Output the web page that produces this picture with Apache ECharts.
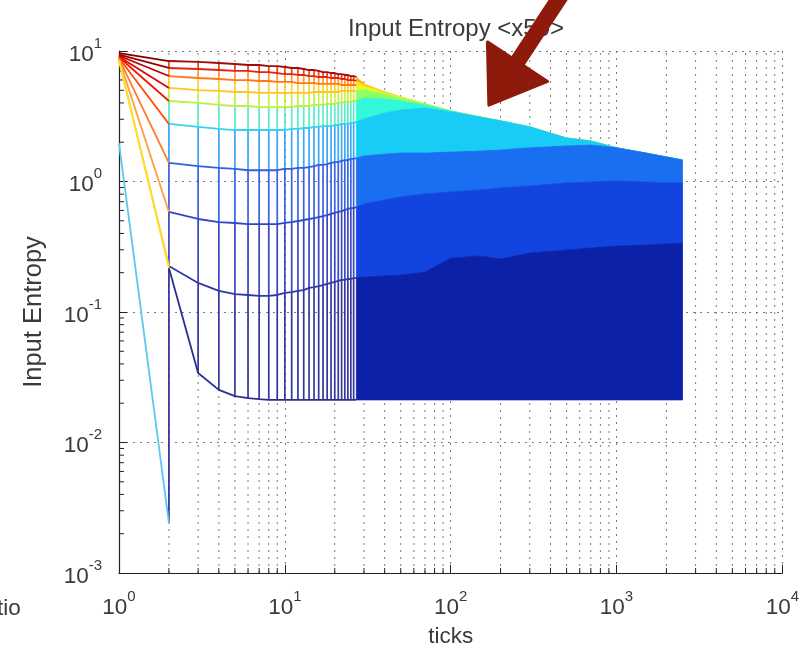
<!DOCTYPE html>
<html>
<head>
<meta charset="utf-8">
<script src="https://cdn.jsdelivr.net/npm/echarts@6/dist/echarts.min.js"></script>
<style>
html, body { margin: 0; padding: 0; background: #ffffff; }
#chart { width: 802px; height: 659px; }
</style>
</head>
<body>
<div id="chart"></div>
<script>
// Mesh nodes along the "ticks" axis: every integer up to 27, then a sparser tail.
const tickNodes = [1, 2, 3, 4, 5, 6, 7, 8, 9, 10, 11, 12, 13, 14, 15, 16, 17, 18, 19, 20,
  21, 22, 23, 24, 25, 26, 27, 30, 40, 50, 70, 100, 150, 200, 300, 500, 700, 1000, 1500, 2000, 2500];

// Input entropy rows of the mesh, top to bottom (one value per node above).
const entropyR0 = [9.65, 8.38, 8.24, 8.09, 7.95, 7.81, 7.81, 7.67, 7.67, 7.54, 7.41, 7.41, 7.28, 7.15, 7.15, 7.03, 6.90, 6.90, 6.78, 6.78,
  6.66, 6.66, 6.55, 6.55, 6.43, 6.43, 6.32, 5.59, 4.85, 4.44, 3.93, 3.47, 3.12, 2.91, 2.62, 2.15, 2.04, 1.81, 1.65, 1.54, 1.46];
const entropyR1 = [9.40, 7.41, 7.28, 7.15, 7.03, 7.03, 6.90, 6.90, 6.78, 6.66, 6.66, 6.55, 6.55, 6.43, 6.43, 6.32, 6.32, 6.32, 6.21, 6.21,
  6.21, 6.10, 6.10, 5.99, 5.99, 5.99, 5.89, 5.49, 4.85, 4.44, 3.93, 3.47, 3.12, 2.91, 2.62, 2.15, 2.04, 1.81, 1.65, 1.54, 1.46];
const entropyR2 = [9.20, 6.43, 6.21, 6.10, 5.99, 5.99, 5.89, 5.89, 5.79, 5.79, 5.79, 5.68, 5.68, 5.68, 5.68, 5.59, 5.59, 5.59, 5.59, 5.59,
  5.59, 5.49, 5.49, 5.49, 5.49, 5.49, 5.49, 5.30, 4.77, 4.44, 3.93, 3.47, 3.12, 2.91, 2.62, 2.15, 2.04, 1.81, 1.65, 1.54, 1.46];
const entropyR3 = [9.05, 5.21, 5.02, 4.94, 4.85, 4.85, 4.77, 4.77, 4.77, 4.77, 4.77, 4.77, 4.77, 4.77, 4.85, 4.85, 4.85, 4.85, 4.85, 4.85,
  4.85, 4.94, 4.94, 4.94, 4.94, 4.94, 4.94, 5.02, 4.68, 4.36, 3.93, 3.47, 3.12, 2.91, 2.62, 2.15, 2.04, 1.81, 1.65, 1.54, 1.46];
const entropyR4 = [8.95, 4.14, 4.00, 3.86, 3.79, 3.79, 3.72, 3.72, 3.72, 3.72, 3.72, 3.79, 3.79, 3.79, 3.86, 3.86, 3.86, 3.93, 3.93, 3.93,
  4.00, 4.00, 4.07, 4.07, 4.07, 4.14, 4.14, 4.36, 4.29, 4.14, 3.86, 3.47, 3.12, 2.91, 2.62, 2.15, 2.04, 1.81, 1.65, 1.54, 1.46];
const entropyR5 = [8.85, 2.76, 2.62, 2.53, 2.48, 2.48, 2.48, 2.48, 2.48, 2.48, 2.53, 2.53, 2.57, 2.57, 2.62, 2.62, 2.66, 2.66, 2.66, 2.71,
  2.71, 2.76, 2.76, 2.76, 2.81, 2.81, 2.86, 3.01, 3.35, 3.53, 3.66, 3.41, 3.12, 2.91, 2.62, 2.15, 2.04, 1.81, 1.65, 1.54, 1.46];
const entropyR6 = [8.75, 1.39, 1.31, 1.27, 1.25, 1.22, 1.22, 1.22, 1.22, 1.25, 1.25, 1.27, 1.27, 1.29, 1.31, 1.34, 1.34, 1.36, 1.39, 1.41,
  1.41, 1.44, 1.46, 1.46, 1.49, 1.49, 1.51, 1.57, 1.62, 1.65, 1.65, 1.68, 1.71, 1.74, 1.81, 1.87, 1.90, 1.81, 1.65, 1.54, 1.46];
const entropyR7 = [8.65, 0.584, 0.516, 0.489, 0.481, 0.472, 0.472, 0.472, 0.472, 0.481, 0.489, 0.498, 0.507, 0.516, 0.525, 0.534, 0.544, 0.553, 0.564, 0.574,
  0.584, 0.594, 0.605, 0.616, 0.626, 0.626, 0.638, 0.673, 0.721, 0.761, 0.802, 0.831, 0.861, 0.892, 0.924, 0.974, 0.991, 1.01, 0.991, 0.974, 0.974];
const entropyR8 = [8.55, 0.225, 0.167, 0.145, 0.137, 0.135, 0.133, 0.133, 0.135, 0.140, 0.142, 0.145, 0.147, 0.153, 0.155, 0.158, 0.161, 0.164, 0.167, 0.170,
  0.173, 0.176, 0.176, 0.179, 0.179, 0.182, 0.182, 0.185, 0.189, 0.192, 0.202, 0.259, 0.269, 0.255, 0.283, 0.299, 0.309, 0.320, 0.326, 0.332, 0.338];
const entropyR9 = [8.45, 0.217, 0.0341, 0.0253, 0.0227, 0.0219, 0.0215, 0.0212, 0.0212, 0.0212, 0.0212, 0.0212, 0.0212, 0.0212, 0.0212, 0.0212, 0.0212, 0.0212, 0.0212, 0.0212,
  0.0212, 0.0212, 0.0212, 0.0212, 0.0212, 0.0212, 0.0212, 0.0212, 0.0212, 0.0212, 0.0212, 0.0212, 0.0212, 0.0212, 0.0212, 0.0212, 0.0212, 0.0212, 0.0212, 0.0212, 0.0212];
// Lowest row only exists on the first two nodes.
const entropyLow = [1.97, 0.00242];

// Axis decades and labels
const xDecades = [1, 10, 100, 1000, 10000];
const yDecades = [0.001, 0.01, 0.1, 1, 10];
const minorSteps = [2, 3, 4, 5, 6, 7, 8, 9];
const titleText = 'Input Entropy <x50>';
const xName = 'ticks';
const yName = 'Input Entropy';
const clippedText = 'tio';
const arrowTip = [170, 3.85];

// Colours (jet-like)
const fanColors  = ['#7f0000', '#9c0000', '#ba0000', '#d80800', '#f21800', '#ff4a00', '#ff7a30', '#ff9e40', '#ffc030', '#ffe028'];
const rowColors  = ['#9e0c0c', '#e02414', '#ff7818', '#ffc420', '#b8f048', '#34d4f0', '#2f60e0', '#3048c8', '#3038a8', '#2c2f92'];
const colColors  = ['#e44a1c', '#ff9828', '#ffd030', '#c8f048', '#5cecc8', '#3aa8f4', '#3a62e4', '#3a46c4', '#34389c'];
const fillColors = ['#ffa800', '#ffe000', '#d8ff28', '#90ff68', '#30f8d8', '#18ccf6', '#1a6ef0', '#1244e0', '#0b22a8'];
const lowFanColor = '#5cc8ee';
const lowColColor = '#30309a';
const arrowColor = '#8e1a0c';

const FONT = '"Liberation Sans", Arial, Helvetica, sans-serif';
const TXT = '#3a3a3a';
const AXIS = '#222222';

const rows = [entropyR0, entropyR1, entropyR2, entropyR3, entropyR4, entropyR5, entropyR6, entropyR7, entropyR8, entropyR9];
const FILL_FROM = tickNodes.indexOf(27);
const COL_TO = tickNodes.indexOf(26);
const xMin = xDecades[0], xMax = xDecades[xDecades.length - 1];
const yMin = yDecades[0], yMax = yDecades[yDecades.length - 1];
const minorX = xDecades.slice(0, -1).flatMap(d => minorSteps.map(m => m * d));
const minorY = yDecades.slice(0, -1).flatMap(d => minorSteps.map(m => m * d));

function powLabel(v) {
  const e = Math.round(Math.log10(v));
  return '{b|10}{s|' + e + '}';
}
const labelRich = {
  b: { fontFamily: FONT, fontSize: 22.5, color: TXT, lineHeight: 30, verticalAlign: 'bottom' },
  s: { fontFamily: FONT, fontSize: 15, color: TXT, lineHeight: 14, verticalAlign: 'top' }
};
const dotted = { color: '#7a7a7a', width: 1, type: [2, 5] };

const series = [];

// Minor vertical grid lines and bottom minor ticks
series.push({
  type: 'custom', z: 1, silent: true, clip: false, animation: false,
  data: minorX.map(v => [v, yMin]),
  renderItem(params, api) {
    const x = api.value(0);
    const b = api.coord([x, yMin]);
    const t = api.coord([x, yMax]);
    return { type: 'group', children: [
      { type: 'line', shape: { x1: b[0], y1: b[1], x2: t[0], y2: t[1] }, style: { stroke: '#7a7a7a', lineWidth: 1, lineDash: [2, 5] } },
      { type: 'line', shape: { x1: b[0], y1: b[1], x2: b[0], y2: b[1] - 5 }, style: { stroke: AXIS, lineWidth: 1 } }
    ] };
  }
});
// Left minor ticks
series.push({
  type: 'custom', z: 1, silent: true, clip: false, animation: false,
  data: minorY.map(v => [xMin, v]),
  renderItem(params, api) {
    const p = api.coord([xMin, api.value(1)]);
    return { type: 'line', shape: { x1: p[0], y1: p[1], x2: p[0] + 5, y2: p[1] }, style: { stroke: AXIS, lineWidth: 1 } };
  }
});

// Dense part of the mesh: bands between consecutive rows
series.push({
  type: 'custom', z: 2, silent: true, animation: false,
  data: fillColors.map((c, k) => [tickNodes[FILL_FROM], rows[k][FILL_FROM]]),
  renderItem(params, api) {
    const k = params.dataIndex, up = rows[k], lo = rows[k + 1], pts = [];
    for (let j = FILL_FROM; j < tickNodes.length; j++) pts.push(api.coord([tickNodes[j], up[j]]));
    for (let j = tickNodes.length - 1; j >= FILL_FROM; j--) pts.push(api.coord([tickNodes[j], lo[j]]));
    return { type: 'polygon', shape: { points: pts }, style: { fill: fillColors[k], stroke: fillColors[k], lineWidth: 0.8 } };
  }
});

// Mesh columns at each integer tick
series.push({
  type: 'custom', z: 3, silent: true, animation: false,
  data: tickNodes.slice(1, COL_TO + 1).map((x, i) => [x, rows[0][i + 1]]),
  renderItem(params, api) {
    const j = params.dataIndex + 1, x = tickNodes[j], kids = [];
    const seg = (v1, v2, c) => {
      const a = api.coord([x, v1]), b = api.coord([x, v2]);
      kids.push({ type: 'line', shape: { x1: a[0], y1: a[1], x2: b[0], y2: b[1] }, style: { stroke: c, lineWidth: 1.7 } });
    };
    for (let k = 0; k < rows.length - 1; k++) seg(rows[k][j], rows[k + 1][j], colColors[k]);
    if (j < entropyLow.length) seg(rows[rows.length - 1][j], entropyLow[j], lowColColor);
    return { type: 'group', children: kids };
  }
});

// Mesh rows
rows.forEach((r, k) => {
  series.push({
    type: 'line', z: 4, silent: true, symbol: 'none', animation: false,
    data: tickNodes.slice(1, FILL_FROM + 1).map((x, i) => [x, r[i + 1]]),
    lineStyle: { color: rowColors[k], width: 1.8 }, itemStyle: { color: rowColors[k] }
  });
  series.push({
    type: 'line', z: 5, silent: true, symbol: 'none', animation: false,
    data: [[tickNodes[0], r[0]], [tickNodes[1], r[1]]],
    lineStyle: { color: fanColors[k], width: 1.8 }, itemStyle: { color: fanColors[k] }
  });
});
series.push({
  type: 'line', z: 5, silent: true, symbol: 'none', animation: false,
  data: [[tickNodes[0], entropyLow[0]], [tickNodes[1], entropyLow[1]]],
  lineStyle: { color: lowFanColor, width: 1.8 }, itemStyle: { color: lowFanColor }
});

const chart = echarts.init(document.getElementById('chart'), null, { renderer: 'canvas' });
chart.setOption({
  animation: false,
  backgroundColor: '#ffffff',
  title: {
    text: titleText, left: 451, top: 12, textAlign: 'center',
    textStyle: { fontFamily: FONT, fontSize: 24, fontWeight: 'normal', color: TXT }
  },
  grid: { left: 119, right: 18, top: 51, bottom: 86, containLabel: false },
  xAxis: {
    type: 'log', logBase: 10, min: xMin, max: xMax,
    name: xName, nameLocation: 'middle', nameGap: 52,
    nameTextStyle: { fontFamily: FONT, fontSize: 22.5, color: TXT },
    axisLine: { show: true, lineStyle: { color: AXIS, width: 1.2 } },
    axisTick: { show: true, inside: true, length: 8, lineStyle: { color: AXIS } },
    axisLabel: { formatter: powLabel, rich: labelRich, margin: 16 },
    splitLine: { show: true, lineStyle: dotted }
  },
  yAxis: {
    type: 'log', logBase: 10, min: yMin, max: yMax,
    name: yName, nameLocation: 'middle', nameGap: 72, nameRotate: 90,
    nameTextStyle: { fontFamily: FONT, fontSize: 25.5, color: TXT },
    axisLine: { show: true, lineStyle: { color: AXIS, width: 1.2 } },
    axisTick: { show: true, inside: true, length: 8, lineStyle: { color: AXIS } },
    axisLabel: { formatter: powLabel, rich: labelRich, margin: 17 },
    splitLine: { show: true, lineStyle: dotted }
  },
  series: series
});

// Annotation arrow pointing at the converging top edge, plus clipped side text
const tip = chart.convertToPixel({ gridIndex: 0 }, arrowTip);
const dir = [0.55, -0.835];
const perp = [0.835, 0.55];
const headLen = 52, headHalf = 36, shaftHalf = 8, shaftLen = 110;
const base = [tip[0] + dir[0] * headLen, tip[1] + dir[1] * headLen];
const shaftEnd = [base[0] + dir[0] * shaftLen, base[1] + dir[1] * shaftLen];
chart.setOption({
  graphic: [
    {
      type: 'polygon', z: 100, silent: true,
      shape: { points: [
        [base[0] - perp[0] * shaftHalf, base[1] - perp[1] * shaftHalf],
        [shaftEnd[0] - perp[0] * shaftHalf, shaftEnd[1] - perp[1] * shaftHalf],
        [shaftEnd[0] + perp[0] * shaftHalf, shaftEnd[1] + perp[1] * shaftHalf],
        [base[0] + perp[0] * shaftHalf, base[1] + perp[1] * shaftHalf]
      ] },
      style: { fill: arrowColor }
    },
    {
      type: 'polygon', z: 100, silent: true,
      shape: { points: [
        tip,
        [base[0] - perp[0] * headHalf, base[1] - perp[1] * headHalf],
        [base[0] + perp[0] * headHalf, base[1] + perp[1] * headHalf]
      ] },
      style: { fill: arrowColor, stroke: arrowColor, lineWidth: 3, lineJoin: 'round' }
    },
    {
      type: 'text', left: -3, top: 597, silent: true,
      style: { text: clippedText, font: '22.5px ' + FONT, fill: TXT }
    }
  ]
});
</script>
</body>
</html>
